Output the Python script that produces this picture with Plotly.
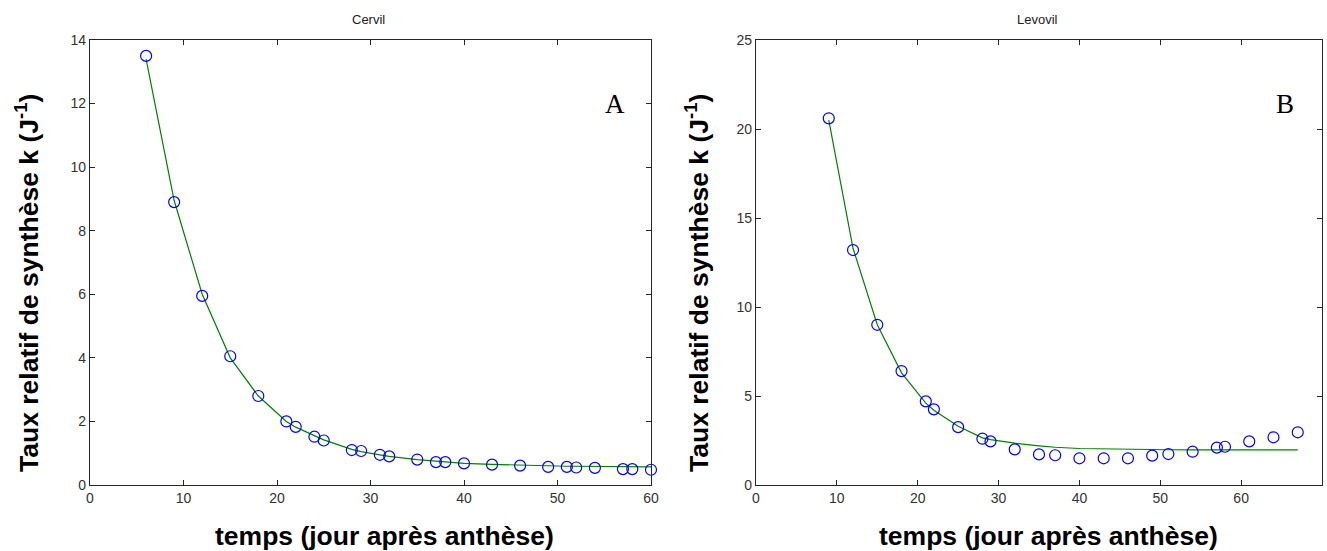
import plotly.graph_objects as go

# ---- data ----
cervil_days = [6, 9, 12, 15, 18, 21, 22, 24, 25, 28, 29, 31, 32, 35, 37, 38, 40, 43, 46, 49, 51, 52, 54, 57, 58, 60]
cervil_k = [13.5, 8.9, 5.95, 4.05, 2.8, 2.0, 1.83, 1.52, 1.4, 1.1, 1.07, 0.95, 0.9, 0.8, 0.72, 0.72, 0.68, 0.64, 0.61, 0.57, 0.57, 0.55, 0.54, 0.5, 0.5, 0.48]
cervil_fit = [13.4, 8.95, 6.0, 4.0, 2.8, 2.0, 1.82, 1.55, 1.42, 1.12, 1.05, 0.95, 0.9, 0.8, 0.75, 0.72, 0.68, 0.65, 0.62, 0.6, 0.59, 0.59, 0.58, 0.58, 0.58, 0.57]

levovil_days = [9, 12, 15, 18, 21, 22, 25, 28, 29, 32, 35, 37, 40, 43, 46, 49, 51, 54, 57, 58, 61, 64, 67]
levovil_k = [20.6, 13.2, 9.0, 6.4, 4.7, 4.25, 3.25, 2.6, 2.45, 2.0, 1.72, 1.67, 1.5, 1.5, 1.5, 1.65, 1.74, 1.87, 2.1, 2.15, 2.45, 2.68, 2.96]
levovil_fit = [20.5, 13.3, 9.0, 6.3, 4.6, 4.2, 3.3, 2.65, 2.55, 2.35, 2.2, 2.12, 2.05, 2.02, 2.0, 1.98, 1.98, 1.97, 1.97, 1.97, 1.97, 1.97, 1.97]

panel_titles = ["Cervil", "Levovil"]
panel_letters = ["A", "B"]
x_title = "temps (jour après anthèse)"
y_title = "Taux relatif de synthèse k (J<sup>-1</sup>)"

W, H = 1327, 551
def px(x):
    return x / W
def py(y):
    return (H - y) / H

fig = go.Figure()

marker = dict(symbol="circle-open", size=11, color="#0000ff", line=dict(width=1.2, color="#0000ff"))
line = dict(color="#008000", width=1.2)

fig.add_trace(go.Scatter(x=cervil_days, y=cervil_fit, mode="lines", line=line, xaxis="x", yaxis="y", showlegend=False, cliponaxis=False))
fig.add_trace(go.Scatter(x=cervil_days, y=cervil_k, mode="markers", marker=marker, xaxis="x", yaxis="y", showlegend=False, cliponaxis=False))
fig.add_trace(go.Scatter(x=levovil_days, y=levovil_fit, mode="lines", line=line, xaxis="x2", yaxis="y2", showlegend=False, cliponaxis=False))
fig.add_trace(go.Scatter(x=levovil_days, y=levovil_k, mode="markers", marker=marker, xaxis="x2", yaxis="y2", showlegend=False, cliponaxis=False))

axis_common = dict(
    showline=True, linecolor="#262626", linewidth=1.3, mirror="ticks",
    ticks="inside", ticklen=5, tickcolor="#262626", tickwidth=1,
    showgrid=False, zeroline=False, automargin=False,
    tickfont=dict(family="Arial, Liberation Sans, sans-serif", size=14, color="#333333"),
)

ybot, ytop = py(485), py(40)
fig.update_layout(
    template="none",
    width=W, height=H,
    margin=dict(l=0, r=0, t=0, b=0, pad=0),
    paper_bgcolor="white", plot_bgcolor="white",
    xaxis=dict(domain=[px(90), px(651)], range=[0, 60], dtick=10, anchor="y", **axis_common),
    yaxis=dict(domain=[ybot, ytop], range=[0, 14], dtick=2, anchor="x", **axis_common),
    xaxis2=dict(domain=[px(756), px(1322)], range=[0, 70], dtick=10, anchor="y2", **axis_common),
    yaxis2=dict(domain=[ybot, ytop], range=[0, 25], dtick=5, anchor="x2", **axis_common),
)

ann = []
title_font = dict(family="Arial, Liberation Sans, sans-serif", size=13, color="#222222")
xt_font = dict(family="Arial, Liberation Sans, sans-serif", size=26.5, color="black")
yt_font = dict(family="Arial, Liberation Sans, sans-serif", size=26.5, color="black")
letter_font = dict(family="Liberation Serif, Times New Roman, serif", size=27, color="black")
for i, (tx, cx, ycx, lx) in enumerate([(368, 384, 27, 615), (1037, 1048, 697, 1285)]):
    ann.append(dict(text=panel_titles[i], x=px(tx), y=py(20), xref="paper", yref="paper",
                    showarrow=False, font=title_font, xanchor="center", yanchor="middle"))
    ann.append(dict(text="<b>" + x_title + "</b>", x=px(cx), y=py(536), xref="paper", yref="paper",
                    showarrow=False, font=xt_font, xanchor="center", yanchor="middle"))
    ann.append(dict(text="<b>" + y_title + "</b>", x=px(ycx), y=py(283), xref="paper", yref="paper",
                    showarrow=False, font=yt_font, xanchor="center", yanchor="middle", textangle=-90))
    ann.append(dict(text=panel_letters[i], x=px(lx), y=py(104), xref="paper", yref="paper",
                    showarrow=False, font=letter_font, xanchor="center", yanchor="middle"))
fig.update_layout(annotations=ann)

fig.write_html("out.html", config={"displayModeBar": False},
               post_script="document.body.style.margin='0';document.body.style.padding='0';")
